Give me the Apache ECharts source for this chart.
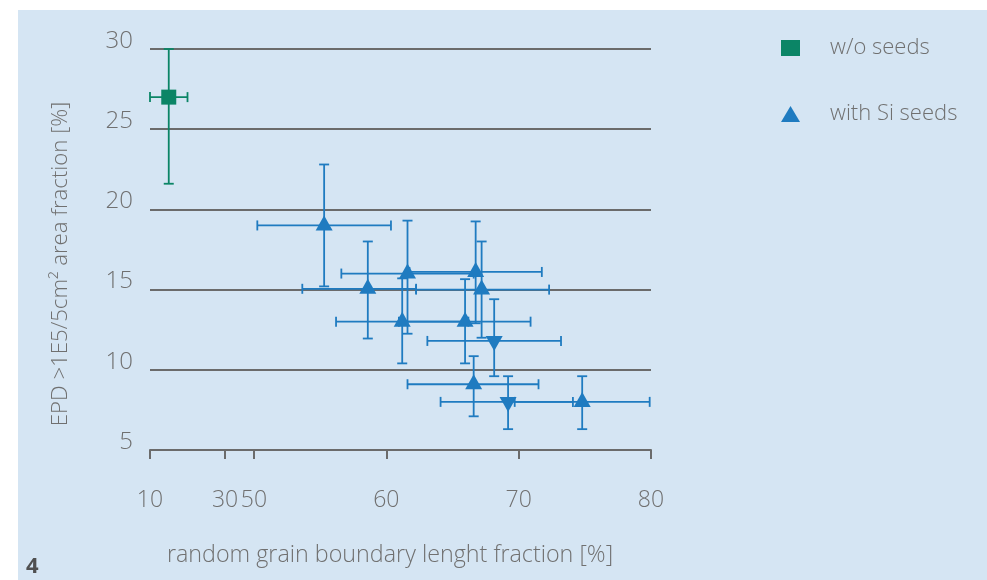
<!DOCTYPE html>
<html><head><meta charset="utf-8">
<script src="https://cdn.jsdelivr.net/npm/echarts@6/dist/echarts.min.js"></script>
<style>html,body{margin:0;padding:0;background:#fff}#c{width:987px;height:580px}</style>
</head><body><div id="c"></div>
<script>
// ---- data ----
const yTicks = [5, 10, 15, 20, 25, 30];
const xTicksLow = [10, 30];          // left (compressed) part of the broken x axis
const xTicksHigh = [50, 60, 70, 80]; // right part

const seriesNames = ['w/o seeds', 'with Si seeds'];

// w/o seeds
const noSeedX     = [15];
const noSeedXLow  = [10];
const noSeedXHigh = [20];
const noSeedY     = [27];
const noSeedYLow  = [21.6];
const noSeedYHigh = [30];

// with Si seeds
const siX     = [55.3, 58.6, 61.6, 67.2, 61.2, 66.75, 65.95, 68.15, 66.6, 69.2, 74.8];
const siXLow  = [50.25, 53.65, 56.6, 62.25, 56.2, 61.75, 60.95, 63.1, 61.6, 64.1, 69.7];
const siXHigh = [60.35, 62.25, 66.6, 72.3, 66.2, 71.75, 70.9, 73.2, 71.5, 74.1, 79.9];
const siY     = [19.0, 15.05, 16.0, 15.0, 13.0, 16.1, 13.0, 11.8, 9.1, 8.0, 8.0];
const siYLow  = [15.2, 11.95, 12.25, 12.0, 10.4, 12.9, 10.4, 9.6, 7.1, 6.3, 6.3];
const siYHigh = [22.8, 18.0, 19.3, 18.0, 15.7, 19.25, 15.65, 14.4, 10.85, 9.6, 9.6];
const siShape = ['up','up','up','up','up','up','up','down','up','down','up'];

// ---- styles ----
const GREEN = '#0b8566';
const BLUE = '#1f7bc0';
const GRID = '#6b6b6b';
const TEXT = '#707070';
const FONT = '"Open Sans", "Noto Sans", sans-serif';
const W = 300;

function rows(x, xl, xh, y, yl, yh) {
  return x.map((v, i) => [v, xl[i], xh[i], y[i], yl[i], yh[i]]);
}
function errRender(color) {
  return function (params, api) {
    const x = api.value(0), xl = api.value(1), xh = api.value(2);
    const y = api.value(3), yl = api.value(4), yh = api.value(5);
    const c = api.coord([x, y]);
    const pl = api.coord([xl, y]), ph = api.coord([xh, y]);
    const ql = api.coord([x, yl]), qh = api.coord([x, yh]);
    const cap = 5;
    const st = { stroke: color, lineWidth: 1.8 };
    const L = (x1, y1, x2, y2) => ({ type: 'line', shape: { x1, y1, x2, y2 }, style: st });
    return {
      type: 'group',
      children: [
        L(pl[0], c[1], ph[0], c[1]),
        L(pl[0], c[1] - cap, pl[0], c[1] + cap),
        L(ph[0], c[1] - cap, ph[0], c[1] + cap),
        L(c[0], ql[1], c[0], qh[1]),
        L(c[0] - cap, ql[1], c[0] + cap, ql[1]),
        L(c[0] - cap, qh[1], c[0] + cap, qh[1])
      ]
    };
  };
}

const chart = echarts.init(document.getElementById('c'), null, { renderer: 'canvas' });

const yAxisCommon = {
  type: 'value', min: yTicks[0], max: yTicks[yTicks.length - 1], interval: 5,
  axisLine: { show: false }, axisTick: { show: false },
  splitLine: { show: true, lineStyle: { color: GRID, width: 2 } }
};
const xAxisCommon = {
  type: 'value',
  axisLine: { show: true, lineStyle: { color: GRID, width: 2 } },
  axisTick: { show: true, length: 9, lineStyle: { color: GRID, width: 2 } },
  axisLabel: { color: TEXT, fontSize: 23, fontWeight: W, fontFamily: FONT, margin: 39 },
  splitLine: { show: false }
};

const option = {
  backgroundColor: '#ffffff',
  animation: false,
  graphic: [
    { type: 'rect', z: -10, shape: { x: 18, y: 10, width: 969, height: 570 }, style: { fill: '#d5e5f3' } },
    { type: 'text', left: 26, top: 556, style: { text: '4', fill: '#505050', font: 'bold 22px ' + FONT } },
    { type: 'text', x: 390, y: 555, style: { text: 'random grain boundary lenght fraction [%]', fill: TEXT, font: W + ' 23.3px ' + FONT, align: 'center', verticalAlign: 'middle' } },
    { type: 'text', x: 61, y: 264, rotation: Math.PI / 2, style: { text: 'EPD >1E5/5cm² area fraction [%]', fill: TEXT, font: W + ' 22.2px ' + FONT, align: 'center', verticalAlign: 'middle' } }
  ],
  legend: {
    orient: 'vertical', left: 776, top: 32,
    itemWidth: 19, itemHeight: 16, itemGap: 44,
    textStyle: { color: TEXT, fontSize: 22, fontWeight: W, fontFamily: FONT, lineHeight: 20, padding: [0, 0, 0, 25] },
    data: [
      { name: seriesNames[0], icon: 'rect', itemStyle: { color: GREEN } },
      { name: seriesNames[1], icon: 'triangle', itemStyle: { color: BLUE } }
    ]
  },
  grid: [
    { left: 150, width: 104, top: 49, height: 401 },
    { left: 254, right: 336, top: 49, height: 401 }
  ],
  xAxis: [
    Object.assign({}, xAxisCommon, {
      gridIndex: 0, min: 10, max: 37.73,
      axisTick: Object.assign({}, xAxisCommon.axisTick, { customValues: xTicksLow }),
      axisLabel: Object.assign({}, xAxisCommon.axisLabel, { customValues: xTicksLow })
    }),
    Object.assign({}, xAxisCommon, {
      gridIndex: 1, min: xTicksHigh[0], max: xTicksHigh[xTicksHigh.length - 1], interval: 10
    })
  ],
  yAxis: [
    Object.assign({}, yAxisCommon, {
      gridIndex: 0,
      axisLabel: { show: true, color: TEXT, fontSize: 24, fontWeight: W, fontFamily: FONT, margin: 17, verticalAlign: 'bottom', lineHeight: 16 }
    }),
    Object.assign({}, yAxisCommon, { gridIndex: 1, axisLabel: { show: false } })
  ],
  series: [
    {
      name: 'w/o seeds error', type: 'custom', xAxisIndex: 0, yAxisIndex: 0, z: 2,
      renderItem: errRender(GREEN), clip: false,
      encode: { x: [0, 1, 2], y: [3, 4, 5] },
      data: rows(noSeedX, noSeedXLow, noSeedXHigh, noSeedY, noSeedYLow, noSeedYHigh)
    },
    {
      name: seriesNames[0], type: 'scatter', xAxisIndex: 0, yAxisIndex: 0, z: 3,
      symbol: 'rect', symbolSize: 15, itemStyle: { color: GREEN, opacity: 1 },
      data: noSeedX.map((v, i) => [v, noSeedY[i]])
    },
    {
      name: 'with Si seeds error', type: 'custom', xAxisIndex: 1, yAxisIndex: 1, z: 2,
      renderItem: errRender(BLUE), clip: false,
      encode: { x: [0, 1, 2], y: [3, 4, 5] },
      data: rows(siX, siXLow, siXHigh, siY, siYLow, siYHigh)
    },
    {
      name: seriesNames[1], type: 'scatter', xAxisIndex: 1, yAxisIndex: 1, z: 3,
      symbol: 'triangle', symbolSize: [17, 15], itemStyle: { color: BLUE, opacity: 1 },
      data: siX.map((v, i) => ({
        value: [v, siY[i]],
        symbolRotate: siShape[i] === 'down' ? 180 : 0,
        symbolOffset: siShape[i] === 'down' ? [0, 2.5] : [0, -2.5]
      }))
    }
  ]
};
chart.setOption(option);
</script>
</body></html>
